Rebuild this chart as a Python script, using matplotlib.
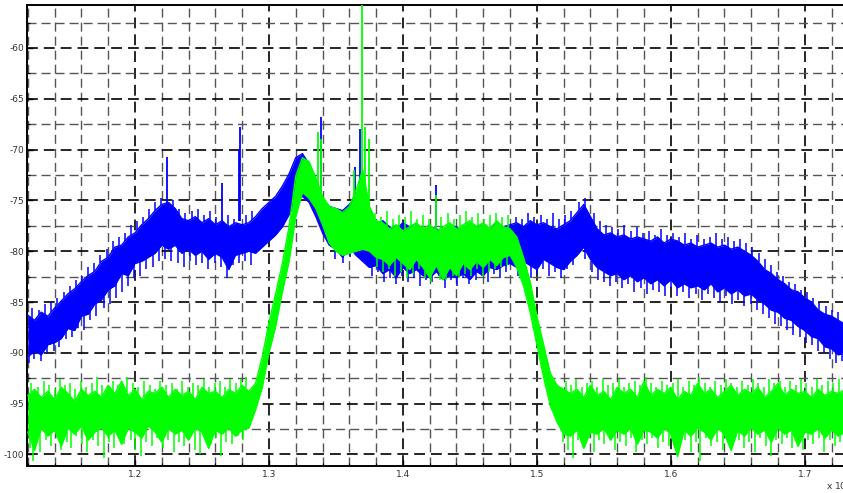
import numpy as np
import matplotlib
matplotlib.use("Agg")
import matplotlib.pyplot as plt

# frequency axis (x 10^9), one sample every 0.005
freq = np.round(np.arange(1.120, 1.7301, 0.005), 3)

# blue trace: upper / lower edge of the noise band (dB)
blue_hi = [
    -86.3, -86.8, -86.0, -86.4, -85.6, -84.9, -84.2, -83.7, -83.0, -82.4,   # 1.120
    -82.0, -81.0, -80.6, -79.6, -79.4, -78.6, -78.2, -77.4, -76.8, -76.0,   # 1.170
    -75.4, -75.2, -75.8, -76.8, -77.0, -76.6, -77.2, -76.8, -77.4, -77.0,   # 1.220
    -77.6, -77.2, -77.4, -77.2, -76.6, -75.8, -75.2, -74.6, -73.6, -72.4,   # 1.270
    -70.8, -70.4, -71.4, -73.2, -74.8, -75.6, -75.8, -76.0, -75.4, -74.6,   # 1.320
    -75.0, -77.2, -77.4, -77.0, -77.6, -77.8, -77.2, -77.6, -77.4, -78.0,   # 1.370
    -77.6, -77.8, -78.2, -77.8, -77.6, -78.0, -77.8, -77.6, -77.4, -77.8,   # 1.420
    -77.2, -77.6, -77.4, -77.2, -77.6, -77.0, -77.4, -77.2, -77.6, -77.8,   # 1.470
    -77.4, -77.0, -76.2, -75.4, -76.6, -77.8, -78.4, -78.2, -78.6, -78.4,   # 1.520
    -78.8, -78.6, -78.8, -79.0, -78.6, -79.2, -78.8, -79.0, -79.4, -79.2,   # 1.570
    -79.6, -79.4, -79.2, -79.6, -79.4, -79.8, -79.6, -80.0, -80.4, -81.0,   # 1.620
    -81.8, -82.2, -82.8, -83.2, -83.8, -84.0, -84.6, -85.0, -85.8, -86.2,   # 1.670
    -86.4, -86.8, -87.2,                                                    # 1.720
]
blue_lo = [
    -90.4, -89.8, -90.2, -89.2, -89.0, -88.6, -87.6, -87.8, -86.4, -86.2,
    -85.2, -84.8, -83.8, -83.4, -82.2, -82.4, -81.2, -81.0, -80.6, -80.2,
    -79.4, -79.8, -79.4, -80.2, -79.8, -80.4, -80.0, -80.8, -80.2, -80.6,
    -81.8, -80.4, -80.2, -80.0, -80.2, -79.6, -79.0, -78.4, -77.6, -76.4,
    -75.0, -74.6, -75.2, -76.6, -78.2, -79.4, -79.8, -80.6, -79.6, -80.4,
    -81.0, -81.6, -81.4, -82.2, -81.8, -82.6, -81.6, -82.2, -81.8, -82.4,
    -82.6, -82.0, -82.8, -82.4, -82.6, -82.2, -82.8, -82.0, -82.4, -81.6,
    -81.8, -81.4, -81.2, -81.6, -81.0, -81.4, -81.8, -80.8, -81.2, -81.6,
    -81.8, -81.0, -80.4, -79.6, -80.8, -81.6, -82.0, -82.4, -82.2, -82.8,
    -82.4, -83.0, -82.6, -83.2, -82.8, -83.4, -82.8, -83.6, -83.2, -83.6,
    -83.4, -83.8, -83.2, -84.0, -83.6, -84.2, -83.8, -84.4, -84.2, -84.8,
    -85.2, -85.8, -86.0, -86.6, -86.8, -87.4, -87.8, -88.4, -88.6, -89.4,
    -89.6, -90.2, -90.0,
]

# green trace
green_hi = [
    -94.2, -93.6, -94.4, -93.8, -94.6, -93.4, -94.0, -94.8, -93.6, -94.2,
    -93.8, -94.4, -93.2, -94.0, -92.8, -94.2, -93.6, -94.6, -93.8, -94.0,
    -93.4, -94.4, -93.6, -94.2, -93.8, -94.6, -93.4, -94.0, -93.8, -94.4,
    -93.6, -94.0, -93.2, -93.8, -93.0, -90.4, -87.0, -84.2, -81.2, -77.6,
    -72.6, -70.8, -71.2, -72.8, -74.6, -75.6, -75.8, -76.2, -75.6, -74.0,
    -72.0, -75.6, -77.0, -77.2, -77.8, -77.4, -78.0, -77.6, -77.2, -77.8,
    -77.4, -78.0, -77.6, -77.2, -77.8, -77.4, -77.0, -77.6, -77.2, -77.8,
    -77.0, -77.6, -77.8, -78.6, -80.6, -83.0, -86.4, -89.2, -92.0, -93.2,
    -93.6, -94.0, -93.6, -94.4, -93.2, -94.2, -93.8, -94.6, -93.4, -94.0,
    -93.6, -94.4, -92.8, -94.2, -93.6, -94.0, -93.4, -94.6, -93.8, -94.2,
    -93.0, -94.0, -93.6, -94.4, -93.8, -93.2, -94.2, -93.6, -94.0, -93.4,
    -94.4, -93.8, -93.0, -94.2, -93.6, -94.0, -93.8, -94.4, -93.6, -94.2,
    -93.8, -94.0, -93.6,
]
green_lo = [
    -97.8, -99.6, -97.4, -98.2, -97.6, -99.2, -97.4, -98.0, -97.2, -98.6,
    -97.8, -97.4, -98.2, -97.6, -99.0, -97.4, -97.8, -98.4, -97.2, -97.8,
    -98.8, -97.4, -98.0, -97.6, -98.6, -97.4, -97.8, -99.4, -97.6, -98.0,
    -97.4, -98.2, -97.6, -97.4, -95.6, -93.4, -90.0, -87.4, -84.0, -81.0,
    -76.6, -74.2, -74.8, -75.8, -77.4, -79.2, -80.0, -80.4, -80.2, -80.0,
    -79.8, -80.0, -80.6, -80.8, -81.4, -80.6, -81.2, -81.8, -80.8, -81.6,
    -82.6, -81.4, -82.8, -81.6, -82.4, -81.2, -81.8, -81.0, -81.6, -80.8,
    -81.4, -80.6, -80.4, -81.6, -83.4, -86.0, -89.2, -92.4, -95.2, -96.8,
    -98.0, -98.2, -97.6, -99.4, -97.8, -98.0, -97.4, -98.6, -97.6, -98.0,
    -97.4, -99.0, -97.6, -97.8, -98.4, -97.4, -98.0, -100.2, -97.6, -98.2,
    -97.4, -97.8, -98.6, -97.4, -98.0, -99.6, -97.6, -98.2, -97.4, -98.0,
    -97.6, -98.8, -97.4, -98.0, -97.6, -99.2, -97.8, -98.0, -97.4, -98.4,
    -97.6, -98.2, -97.8,
]

# narrow tones sticking out of the bands (freq, top, base)
blue_tones = [(1.2239, -70.7, -76.0), (1.2649, -73.3, -77.0), (1.2776, -70.0, -77.0),
              (1.2784, -67.8, -77.0), (1.3385, -66.8, -75.0), (1.3640, -71.7, -76.0),
              (1.3682, -68.0, -77.0), (1.4246, -73.5, -78.0)]
green_tones = [(1.3366, -68.3, -75.0), (1.3385, -69.0, -76.0), (1.3635, -72.0, -77.0),
               (1.3698, -55.0, -77.0), (1.3715, -67.8, -77.0), (1.3745, -69.0, -77.0),
               (1.4246, -74.5, -78.0)]

# noise peaks poking out above / below the bands (freq, value)
blue_up = [
    (1.1232, -85.6), (1.1281, -85.8), (1.1327, -85.2), (1.1375, -85.0), (1.1421, -84.6),
    (1.1468, -84.0), (1.1513, -83.4), (1.1559, -82.8), (1.1604, -82.4), (1.1651, -81.6),
    (1.1697, -81.2), (1.1742, -80.4), (1.1788, -79.8), (1.1833, -79.0), (1.1879, -78.6),
    (1.1925, -78.2), (1.1971, -77.4), (1.2016, -77.0), (1.2062, -76.6), (1.2107, -75.8),
    (1.2153, -75.2), (1.2197, -74.8), (1.2286, -75.0), (1.2331, -75.8), (1.2377, -76.2),
    (1.2423, -76.0), (1.2468, -75.8), (1.2513, -76.4), (1.2559, -76.0), (1.2604, -76.6),
    (1.2693, -76.4), (1.2739, -76.8), (1.2829, -76.4), (1.2874, -76.0),
    (1.4846, -76.6), (1.4891, -76.8), (1.4937, -76.2), (1.4982, -76.6), (1.5028, -76.4),
    (1.5073, -76.8), (1.5118, -76.2), (1.5164, -76.8), (1.5209, -76.4), (1.5255, -76.0),
    (1.5318, -75.2), (1.5362, -74.8), (1.5426, -76.2), (1.5472, -77.0), (1.5517, -77.4),
    (1.5563, -77.6), (1.5608, -77.8), (1.5654, -77.4), (1.5699, -78.0), (1.5744, -77.6),
    (1.5789, -78.2), (1.5835, -78.0), (1.5881, -78.4), (1.5926, -77.8), (1.5972, -78.4),
    (1.6017, -78.2), (1.6063, -78.6), (1.6108, -78.2), (1.6154, -78.8), (1.6199, -78.4),
    (1.6245, -78.8), (1.6291, -78.6), (1.6336, -78.2), (1.6382, -78.8), (1.6427, -78.6),
    (1.6473, -79.0), (1.6518, -78.8), (1.6564, -79.2), (1.6609, -79.6), (1.6655, -80.2),
    (1.6701, -80.8), (1.6746, -81.4), (1.6791, -82.0), (1.6837, -82.4), (1.6882, -83.0),
    (1.6928, -83.2), (1.6973, -83.8), (1.7019, -84.0), (1.7064, -84.6), (1.7109, -85.0),
    (1.7155, -85.4), (1.7201, -85.8), (1.7246, -86.0), (1.7292, -86.4),
]
blue_dn = [
    (1.1208, -91.0), (1.1245, -90.6), (1.1297, -90.8), (1.1342, -90.0), (1.1393, -89.8),
    (1.1436, -89.4), (1.1487, -88.6), (1.1532, -88.4), (1.1578, -87.6), (1.1623, -87.8),
    (1.1668, -86.8), (1.1712, -86.4), (1.1766, -85.6), (1.1813, -85.2), (1.1858, -84.6),
    (1.1902, -84.0), (1.1947, -83.4), (1.1992, -82.6), (1.2038, -82.4), (1.2083, -81.8),
    (1.2132, -81.6), (1.2178, -81.0), (1.2227, -80.8), (1.2272, -81.0), (1.2318, -81.2),
    (1.2363, -81.6), (1.2412, -81.0), (1.2458, -81.4), (1.2503, -81.2), (1.2548, -81.8),
    (1.2594, -81.2), (1.2642, -81.6), (1.2687, -82.6), (1.2733, -81.4), (1.2778, -81.2),
    (1.2824, -81.0), (1.2869, -81.4),
    (1.3496, -80.8), (1.3552, -81.2), (1.3604, -80.6), (1.3768, -82.4), (1.3812, -82.0),
    (1.3856, -83.0), (1.3901, -82.6), (1.3947, -83.2), (1.3992, -82.4), (1.4036, -83.0),
    (1.4081, -82.6), (1.4127, -83.4), (1.4173, -82.8), (1.4218, -83.0), (1.4268, -82.4),
    (1.4313, -83.6), (1.4359, -82.8), (1.4406, -83.4), (1.4451, -82.6), (1.4496, -83.2),
    (1.4542, -82.8), (1.4588, -82.4), (1.4633, -83.0), (1.4678, -82.2), (1.4724, -82.6),
    (1.4773, -82.0),
    (1.4862, -82.4), (1.4908, -82.0), (1.4953, -82.6), (1.4998, -82.2), (1.5043, -81.8),
    (1.5092, -82.4), (1.5138, -82.0), (1.5182, -82.6), (1.5228, -81.8), (1.5273, -81.4),
    (1.5357, -80.8), (1.5412, -82.0), (1.5458, -82.8), (1.5503, -83.0), (1.5549, -83.4),
    (1.5594, -83.0), (1.5638, -83.6), (1.5683, -83.2), (1.5728, -84.0), (1.5774, -83.6),
    (1.5819, -84.2), (1.5866, -83.8), (1.5912, -84.0), (1.5957, -84.4), (1.6003, -83.6),
    (1.6048, -84.4), (1.6094, -84.0), (1.6139, -84.6), (1.6186, -84.2), (1.6231, -84.8),
    (1.6277, -84.2), (1.6322, -84.6), (1.6368, -85.0), (1.6414, -84.4), (1.6459, -85.2),
    (1.6504, -84.8), (1.6549, -85.4), (1.6596, -85.2), (1.6642, -85.8), (1.6687, -86.2),
    (1.6733, -86.6), (1.6778, -87.2), (1.6824, -87.4), (1.6869, -87.8), (1.6914, -88.2),
    (1.6961, -88.4), (1.7006, -89.0), (1.7052, -89.2), (1.7098, -89.8), (1.7143, -90.0),
    (1.7188, -90.6), (1.7233, -91.0), (1.7279, -90.8),
]
green_up = [
    (1.1226, -93.0), (1.1273, -93.4), (1.1318, -92.8), (1.1359, -93.2), (1.1403, -93.6),
    (1.1437, -92.6), (1.1478, -93.2), (1.1514, -93.0), (1.1552, -93.6), (1.1597, -92.8),
    (1.1634, -93.4), (1.1679, -93.0), (1.1716, -92.4), (1.1757, -93.2), (1.1798, -93.6),
    (1.1834, -92.8), (1.1873, -93.2), (1.1937, -92.4), (1.1986, -93.0), (1.2026, -93.4),
    (1.2068, -92.8), (1.2109, -93.2), (1.2148, -93.6), (1.2189, -92.8), (1.2231, -93.2),
    (1.2273, -93.0), (1.2313, -93.6), (1.2352, -92.8), (1.2396, -93.4), (1.2434, -93.0),
    (1.2472, -93.2), (1.2516, -92.6), (1.2554, -93.4), (1.2597, -93.0), (1.2632, -92.8),
    (1.2672, -93.4), (1.2713, -92.6), (1.2751, -93.0), (1.2788, -92.6), (1.2826, -92.4),
    (1.3792, -76.2), (1.3838, -76.6), (1.3879, -76.0), (1.3923, -76.8), (1.3968, -76.4),
    (1.4012, -76.6), (1.4058, -76.0), (1.4103, -76.8), (1.4148, -76.4), (1.4193, -76.8),
    (1.4288, -76.6), (1.4334, -76.2), (1.4379, -76.8), (1.4424, -76.4), (1.4469, -76.0),
    (1.4514, -76.6), (1.4559, -76.2), (1.4604, -76.8), (1.4649, -76.4), (1.4694, -76.2),
    (1.4739, -76.6), (1.4784, -76.4),
    (1.5214, -92.8), (1.5257, -93.2), (1.5293, -92.6), (1.5336, -93.4), (1.5372, -93.0),
    (1.5413, -92.8), (1.5452, -93.4), (1.5493, -92.6), (1.5531, -93.2), (1.5572, -93.0),
    (1.5613, -92.6), (1.5652, -93.4), (1.5691, -93.0), (1.5732, -92.8), (1.5771, -93.2),
    (1.5813, -92.4), (1.5852, -93.0), (1.5891, -93.4), (1.5932, -92.8), (1.5971, -93.2),
    (1.6013, -93.0), (1.6052, -92.6), (1.6093, -93.4), (1.6132, -92.8), (1.6171, -93.2),
    (1.6213, -92.4), (1.6252, -93.0), (1.6293, -93.4), (1.6332, -92.8), (1.6373, -93.2),
    (1.6412, -92.6), (1.6452, -93.0), (1.6493, -93.4), (1.6532, -92.8), (1.6573, -93.2),
    (1.6612, -92.6), (1.6653, -93.0), (1.6692, -93.4), (1.6733, -92.6), (1.6772, -93.0),
    (1.6813, -92.8), (1.6852, -93.4), (1.6893, -92.8), (1.6932, -93.2), (1.6973, -92.6),
    (1.7012, -93.0), (1.7053, -93.4), (1.7093, -92.6), (1.7132, -93.2), (1.7173, -92.8),
    (1.7213, -93.0), (1.7253, -92.6), (1.7292, -93.2),
]
green_dn = [
    (1.1215, -99.4), (1.1238, -100.6), (1.1262, -98.8), (1.1291, -99.8), (1.1334, -98.6),
    (1.1372, -99.2), (1.1418, -98.4), (1.1447, -99.6), (1.1489, -98.8), (1.1526, -99.4),
    (1.1563, -98.2), (1.1602, -99.0), (1.1641, -99.8), (1.1688, -98.6), (1.1723, -99.2),
    (1.1767, -100.4), (1.1809, -98.8), (1.1846, -99.4), (1.1882, -98.4), (1.1921, -99.0),
    (1.1968, -98.6), (1.2003, -99.6), (1.2047, -100.2), (1.2082, -98.8), (1.2124, -99.2),
    (1.2167, -98.4), (1.2209, -99.4), (1.2246, -98.6), (1.2288, -99.8), (1.2331, -98.8),
    (1.2368, -99.2), (1.2409, -98.4), (1.2447, -99.6), (1.2486, -100.0), (1.2525, -98.6),
    (1.2569, -99.0), (1.2604, -98.4), (1.2641, -100.2), (1.2683, -98.8), (1.2724, -99.0),
    (1.2766, -98.2), (1.2807, -98.6),
    (1.3806, -81.6), (1.3851, -82.0), (1.3897, -81.8), (1.3942, -82.4), (1.3986, -82.0),
    (1.4031, -82.6), (1.4077, -82.2), (1.4122, -81.8), (1.4167, -82.6), (1.4213, -83.0),
    (1.4279, -82.8), (1.4325, -82.8), (1.4372, -82.4), (1.4417, -82.6), (1.4462, -82.2),
    (1.4507, -82.4), (1.4553, -81.8), (1.4598, -82.4), (1.4644, -82.0), (1.4689, -81.8),
    (1.4734, -81.6), (1.4779, -81.4),
    (1.5196, -98.8), (1.5232, -99.6), (1.5271, -100.4), (1.5308, -98.6), (1.5346, -99.2),
    (1.5389, -98.4), (1.5427, -99.8), (1.5466, -98.6), (1.5502, -99.0), (1.5544, -98.2),
    (1.5583, -99.6), (1.5621, -98.8), (1.5664, -99.2), (1.5703, -98.4), (1.5741, -99.8),
    (1.5786, -98.6), (1.5823, -99.0), (1.5861, -98.4), (1.5902, -99.4), (1.5944, -98.8),
    (1.5987, -99.2), (1.6026, -98.4), (1.6063, -99.0), (1.6108, -98.6), (1.6147, -99.8),
    (1.6186, -98.8), (1.6221, -100.6), (1.6264, -98.4), (1.6303, -99.2), (1.6342, -98.8),
    (1.6386, -99.6), (1.6425, -98.4), (1.6466, -99.0), (1.6507, -98.6), (1.6543, -99.4),
    (1.6587, -98.8), (1.6628, -99.8), (1.6667, -98.4), (1.6709, -99.2), (1.6746, -100.2),
    (1.6788, -98.6), (1.6829, -99.0), (1.6868, -98.4), (1.6907, -99.4), (1.6948, -98.8),
    (1.6986, -99.6), (1.7027, -98.6), (1.7064, -99.0), (1.7108, -98.4), (1.7143, -99.8),
    (1.7185, -98.6), (1.7224, -99.2), (1.7263, -98.8), (1.7297, -99.6),
]

xticks = [1.2, 1.3, 1.4, 1.5, 1.6, 1.7]
yticks = [-100, -95, -90, -85, -80, -75, -70, -65, -60]

BLUE = "#0000ff"
GREEN = "#00ff00"

fig = plt.figure(figsize=(8.43, 4.93), dpi=100)
ax = fig.add_axes([27 / 843, 27 / 493, (849 - 27) / 843, (466 - 5) / 493])


def draw_trace(hi, lo, col, tones, up, dn):
    ax.fill_between(freq, lo, hi, color=col, lw=0, zorder=3)
    ax.plot(freq, hi, color=col, lw=1.0, zorder=3)
    ax.plot(freq, lo, color=col, lw=1.0, zorder=3)
    f, v = np.array(up).T
    ax.vlines(f, np.interp(f, freq, hi), v, color=col, lw=1.1, zorder=3)
    f, v = np.array(dn).T
    ax.vlines(f, np.interp(f, freq, lo), v, color=col, lw=1.1, zorder=3)
    f, top, base = np.array(tones).T
    ax.vlines(f, base, top, color=col, lw=1.3, zorder=3)


draw_trace(blue_hi, blue_lo, BLUE, blue_tones, blue_up, blue_dn)
draw_trace(green_hi, green_lo, GREEN, green_tones, green_up, green_dn)

ax.set_xlim(1.1194, 1.733)
ax.set_ylim(-101.14, -55.77)
ax.set_xticks(xticks)
ax.set_xticklabels([str(t) for t in xticks])
ax.set_yticks(yticks)
ax.set_yticklabels([str(t) for t in yticks])
ax.set_xticks(np.round(np.arange(1.12, 1.74, 0.02), 2), minor=True)
ax.set_yticks(np.arange(-100, -55, 2.5), minor=True)

ax.grid(which="major", color="black", ls=(0, (6.5, 3.6)), lw=1.2, zorder=1)
ax.grid(which="minor", color="#555555", ls=(0, (6.5, 3.6)), lw=1.0, zorder=1)
ax.tick_params(which="both", direction="in", labelsize=6.5, labelcolor="#333333")
ax.tick_params(which="major", length=4, width=1, pad=3)
ax.tick_params(which="minor", length=2, width=0.8)
ax.tick_params(axis="y", pad=2)
for s in ax.spines.values():
    s.set_linewidth(1.4)

fig.text(826 / 843, 1 - 492 / 493, "x 10$^{9}$", fontsize=6.5, color="#333333",
         ha="left", va="bottom")

fig.savefig("out.png", dpi=100)
